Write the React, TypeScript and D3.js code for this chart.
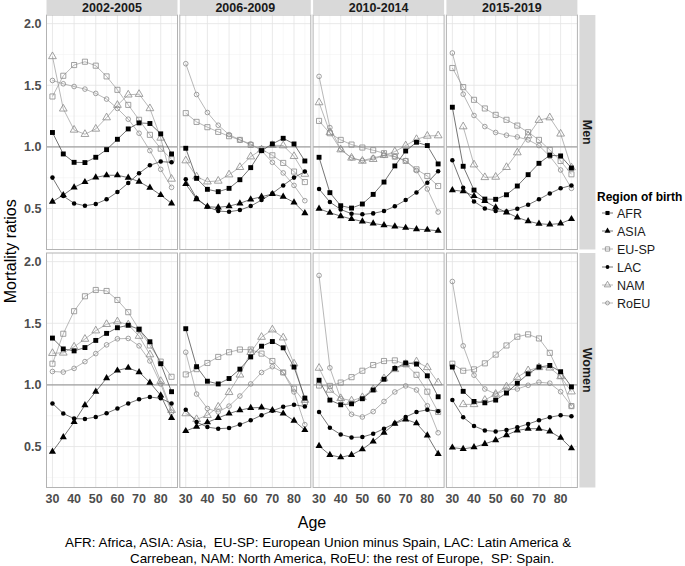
import { useEffect, useRef } from 'react';
import * as d3 from 'd3';

// ages and facets
const ages = [30, 35, 40, 45, 50, 55, 60, 65, 70, 75, 80, 85];
const periods = ['2002-2005', '2006-2009', '2010-2014', '2015-2019'];
const sexes = ['Men', 'Women'];
const regions = ['AFR', 'ASIA', 'EU-SP', 'LAC', 'NAM', 'RoEU'];
const xTicks = [30, 40, 50, 60, 70, 80];
const yTicks = [0.5, 1.0, 1.5, 2.0];
const yMinor = [0.25, 0.75, 1.25, 1.75];
const xMinor = [35, 45, 55, 65, 75, 85];

// each array: one row per period, one value per age
const menAFR = [
  [1.117, 0.943, 0.875, 0.873, 0.916, 0.978, 1.062, 1.146, 1.195, 1.19, 1.106, 0.943],
  [0.989, 0.745, 0.656, 0.637, 0.664, 0.734, 0.832, 0.97, 1.024, 1.07, 1.024, 0.886],
  [0.916, 0.629, 0.523, 0.504, 0.537, 0.615, 0.715, 0.846, 0.967, 1.038, 1.011, 0.862],
  [1.322, 0.843, 0.65, 0.577, 0.575, 0.612, 0.683, 0.775, 0.867, 0.932, 0.927, 0.829],
];
const menASIA = [
  [0.556, 0.61, 0.672, 0.715, 0.753, 0.77, 0.77, 0.751, 0.718, 0.669, 0.61, 0.542],
  [0.699, 0.577, 0.515, 0.51, 0.52, 0.542, 0.575, 0.596, 0.618, 0.596, 0.55, 0.463],
  [0.499, 0.466, 0.439, 0.415, 0.396, 0.379, 0.366, 0.355, 0.344, 0.333, 0.328, 0.32],
  [0.65, 0.64, 0.602, 0.561, 0.51, 0.469, 0.428, 0.398, 0.377, 0.371, 0.379, 0.415],
];
const menEUSP = [
  [1.409, 1.577, 1.664, 1.691, 1.659, 1.572, 1.463, 1.341, 1.22, 1.098, 0.986, 0.9],
  [1.274, 1.203, 1.16, 1.122, 1.087, 1.057, 1.016, 0.981, 0.932, 0.87, 0.8, 0.715],
  [1.211, 1.111, 1.057, 1.019, 0.995, 0.973, 0.949, 0.921, 0.886, 0.818, 0.764, 0.683],
  [1.64, 1.485, 1.382, 1.312, 1.26, 1.22, 1.173, 1.119, 1.057, 0.976, 0.886, 0.778],
];
const menLAC = [
  [0.751, 0.602, 0.542, 0.523, 0.537, 0.575, 0.634, 0.707, 0.786, 0.851, 0.881, 0.875],
  [0.737, 0.583, 0.515, 0.48, 0.474, 0.488, 0.52, 0.569, 0.623, 0.688, 0.751, 0.8],
  [0.659, 0.553, 0.493, 0.458, 0.453, 0.461, 0.48, 0.518, 0.569, 0.631, 0.71, 0.802],
  [0.892, 0.669, 0.558, 0.501, 0.48, 0.477, 0.499, 0.531, 0.575, 0.623, 0.664, 0.688],
];
const menNAM = [
  [1.734, 1.309, 1.138, 1.103, 1.146, 1.238, 1.339, 1.423, 1.428, 1.312, 1.073, 0.74],
  [0.889, 0.759, 0.718, 0.724, 0.775, 0.835, 0.921, 0.978, 1.014, 1.011, 0.924, 0.78],
  [1.36, 1.117, 0.978, 0.911, 0.886, 0.9, 0.932, 0.962, 1.011, 1.062, 1.089, 1.092],
  [null, 1.165, 0.856, 0.753, 0.756, 0.835, 0.954, 1.092, 1.217, 1.238, 1.106, 0.832],
];
const menRoEU = [
  [1.539, 1.512, 1.49, 1.469, 1.434, 1.388, 1.312, 1.225, 1.111, 0.97, 0.818, 0.672],
  [1.675, 1.425, 1.279, 1.176, 1.1, 1.057, 1.024, 0.97, 0.875, 0.789, 0.688, 0.564],
  [1.572, 1.157, 0.981, 0.911, 0.889, 0.911, 0.932, 0.921, 0.889, 0.808, 0.659, 0.472],
  [1.762, 1.428, 1.255, 1.165, 1.117, 1.095, 1.081, 1.057, 1.011, 0.924, 0.813, 0.664],
];

const womenAFR = [
  [1.38, 1.292, 1.276, 1.303, 1.361, 1.418, 1.464, 1.484, 1.451, 1.35, 1.172, 0.945],
  [1.456, 1.148, 1.03, 1.008, 1.052, 1.128, 1.227, 1.314, 1.352, 1.301, 1.145, 0.893],
  [1.038, 0.877, 0.839, 0.847, 0.888, 0.959, 1.046, 1.134, 1.178, 1.169, 1.074, 0.904],
  [1.145, 0.948, 0.866, 0.855, 0.877, 0.934, 1.014, 1.09, 1.145, 1.158, 1.107, 0.984],
];
const womenASIA = [
  [0.459, 0.577, 0.699, 0.836, 0.945, 1.055, 1.117, 1.139, 1.104, 1.019, 0.915, 0.732],
  [0.626, 0.661, 0.697, 0.732, 0.768, 0.795, 0.814, 0.817, 0.795, 0.768, 0.71, 0.634],
  [0.505, 0.432, 0.413, 0.432, 0.478, 0.541, 0.612, 0.686, 0.721, 0.689, 0.59, 0.44],
  [0.492, 0.481, 0.495, 0.522, 0.552, 0.593, 0.631, 0.645, 0.645, 0.623, 0.571, 0.486],
];
const womenEUSP = [
  [1.172, 1.415, 1.598, 1.719, 1.77, 1.762, 1.689, 1.59, 1.451, 1.32, 1.189, 1.066],
  [1.085, 1.128, 1.178, 1.227, 1.265, 1.287, 1.287, 1.254, 1.194, 1.101, 0.97, 0.858],
  [0.995, 0.992, 1.019, 1.063, 1.115, 1.161, 1.194, 1.199, 1.167, 1.082, 0.945, 0.781],
  [1.172, 1.115, 1.126, 1.175, 1.246, 1.32, 1.391, 1.41, 1.377, 1.26, 1.074, 0.828],
];
const womenLAC = [
  [0.85, 0.768, 0.727, 0.724, 0.74, 0.77, 0.809, 0.85, 0.883, 0.902, 0.891, 0.85],
  [0.798, 0.699, 0.658, 0.645, 0.65, 0.678, 0.713, 0.754, 0.79, 0.822, 0.839, 0.825],
  [0.781, 0.653, 0.598, 0.574, 0.577, 0.604, 0.645, 0.689, 0.74, 0.781, 0.798, 0.787],
  [0.877, 0.738, 0.667, 0.631, 0.623, 0.634, 0.656, 0.683, 0.713, 0.738, 0.754, 0.746],
];
const womenNAM = [
  [1.257, 1.26, 1.309, 1.372, 1.44, 1.492, 1.514, 1.489, 1.396, 1.246, 1.03, 0.795],
  [0.768, 0.721, 0.754, 0.822, 0.94, 1.082, 1.265, 1.388, 1.448, 1.383, 1.172, 0.877],
  [1.137, 0.959, 0.891, 0.872, 0.899, 0.964, 1.052, 1.126, 1.169, 1.189, 1.142, 1.019],
  [null, 0.842, 0.842, 0.877, 0.926, 0.986, 1.063, 1.117, 1.142, 1.139, 1.068, 0.945],
];
const womenRoEU = [
  [1.109, 1.104, 1.134, 1.189, 1.254, 1.325, 1.374, 1.377, 1.317, 1.194, 1.008, 0.779],
  [1.265, 0.926, 0.809, 0.781, 0.828, 0.91, 1.008, 1.101, 1.148, 1.101, 0.943, 0.678],
  [1.888, 1.139, 0.888, 0.762, 0.74, 0.784, 0.866, 0.943, 0.992, 0.959, 0.831, 0.612],
  [1.839, 1.317, 1.079, 0.967, 0.926, 0.959, 0.967, 0.997, 1.022, 1.014, 0.945, 0.828],
];

const captionLines = [
  'AFR: Africa, ASIA: Asia,  EU-SP: European Union minus Spain, LAC: Latin America &',
  'Carrebean, NAM: North America, RoEU: the rest of Europe,  SP: Spain.',
];

type Row = (number | null)[];
const table: Record<string, Record<string, Row[]>> = {
  Men: { AFR: menAFR, ASIA: menASIA, 'EU-SP': menEUSP, LAC: menLAC, NAM: menNAM, RoEU: menRoEU },
  Women: { AFR: womenAFR, ASIA: womenASIA, 'EU-SP': womenEUSP, LAC: womenLAC, NAM: womenNAM, RoEU: womenRoEU },
};

const FONT = '"Liberation Sans", Arial, sans-serif';

// marker look per region
const markStyle: Record<string, { shape: d3.SymbolType; filled: boolean; size: number }> = {
  AFR: { shape: d3.symbolSquare, filled: true, size: 24 },
  ASIA: { shape: d3.symbolTriangle, filled: true, size: 22 },
  'EU-SP': { shape: d3.symbolSquare, filled: false, size: 26 },
  LAC: { shape: d3.symbolCircle, filled: true, size: 16 },
  NAM: { shape: d3.symbolTriangle, filled: false, size: 26 },
  RoEU: { shape: d3.symbolCircle, filled: false, size: 17 },
};

export default function App() {
  const svgRef = useRef<SVGSVGElement>(null);

  useEffect(() => {
    if (!svgRef.current) return;
    const width = 685;
    const height = 566;
    const svg = d3.select(svgRef.current);
    svg.selectAll('*').remove();
    svg.attr('width', width).attr('height', height).style('font-family', FONT);

    svg.append('rect').attr('width', width).attr('height', height).attr('fill', '#fff');

    const left0 = 46.5;
    const step = 133.3;
    const panelW = 131;
    const panelH = 234.5;
    const rowTops = [15, 253];
    const stripH = 14.5;

    const yDomain: [number, number] = [0.168, 2.07];

    const line = (x: d3.ScaleLinear<number, number>, y: d3.ScaleLinear<number, number>) =>
      d3.line<[number, number | null]>()
        .defined(d => d[1] != null)
        .x(d => x(d[0]))
        .y(d => y(d[1] as number));

    sexes.forEach((sex, r) => {
      const top = rowTops[r];
      const y = d3.scaleLinear().domain(yDomain).range([top + panelH, top]);

      periods.forEach((period, c) => {
        const left = left0 + c * step;
        const x = d3.scaleLinear().domain([27.25, 87.75]).range([left, left + panelW]);
        const g = svg.append('g');

        g.append('rect')
          .attr('x', left).attr('y', top).attr('width', panelW).attr('height', panelH)
          .attr('fill', '#fff');

        // grid
        g.selectAll('line.ymin').data(yMinor).join('line')
          .attr('x1', left).attr('x2', left + panelW)
          .attr('y1', d => y(d)).attr('y2', d => y(d))
          .attr('stroke', '#f0f0f0').attr('stroke-width', 0.5);
        g.selectAll('line.xmin').data(xMinor).join('line')
          .attr('y1', top).attr('y2', top + panelH)
          .attr('x1', d => x(d)).attr('x2', d => x(d))
          .attr('stroke', '#f0f0f0').attr('stroke-width', 0.5);
        g.selectAll('line.ymaj').data(yTicks).join('line')
          .attr('x1', left).attr('x2', left + panelW)
          .attr('y1', d => y(d)).attr('y2', d => y(d))
          .attr('stroke', '#e3e3e3').attr('stroke-width', 0.8);
        g.selectAll('line.xmaj').data(xTicks).join('line')
          .attr('y1', top).attr('y2', top + panelH)
          .attr('x1', d => x(d)).attr('x2', d => x(d))
          .attr('stroke', '#e3e3e3').attr('stroke-width', 0.8);

        // reference line at 1
        g.append('line')
          .attr('x1', left).attr('x2', left + panelW)
          .attr('y1', y(1)).attr('y2', y(1))
          .attr('stroke', '#8c8c8c').attr('stroke-width', 1);

        // lines first (open series behind)
        const order = ['EU-SP', 'NAM', 'RoEU', 'AFR', 'ASIA', 'LAC'];
        order.forEach(reg => {
          const vals = table[sex][reg][c];
          const pts: [number, number | null][] = ages.map((a, i) => [a, vals[i]]);
          const st = markStyle[reg];
          const col = st.filled ? '#3a3a3a' : '#9a9a9a';
          g.append('path')
            .attr('d', line(x, y)(pts))
            .attr('fill', 'none')
            .attr('stroke', col)
            .attr('stroke-width', 0.7);
        });
        order.forEach(reg => {
          const vals = table[sex][reg][c];
          const st = markStyle[reg];
          const sym = d3.symbol().type(st.shape).size(st.size);
          g.selectAll(null)
            .data(ages.map((a, i) => [a, vals[i]] as [number, number | null]).filter(d => d[1] != null))
            .join('path')
            .attr('d', sym)
            .attr('transform', d => `translate(${x(d[0])},${y(d[1] as number)})`)
            .attr('fill', st.filled ? '#000' : 'none')
            .attr('stroke', st.filled ? 'none' : '#8a8a8a')
            .attr('stroke-width', 0.8);
        });

        // panel border
        g.append('rect')
          .attr('x', left).attr('y', top).attr('width', panelW).attr('height', panelH)
          .attr('fill', 'none').attr('stroke', '#b3b3b3').attr('stroke-width', 1);

        // column strip
        if (r === 0) {
          svg.append('rect')
            .attr('x', left).attr('y', 0).attr('width', panelW).attr('height', stripH)
            .attr('fill', '#d9d9d9');
          svg.append('text')
            .attr('x', left + panelW / 2).attr('y', stripH / 2)
            .attr('dy', '0.36em').attr('text-anchor', 'middle')
            .attr('font-size', 12.5).attr('font-weight', 'bold').attr('fill', '#1a1a1a')
            .text(period);
        }

        // x tick labels
        if (r === 1) {
          svg.selectAll(null).data(xTicks).join('text')
            .attr('x', d => x(d)).attr('y', top + panelH + 15)
            .attr('text-anchor', 'middle')
            .attr('font-size', 12.5).attr('font-weight', 'bold').attr('fill', '#4d4d4d')
            .text(d => d);
        }
        // y tick labels
        if (c === 0) {
          svg.selectAll(null).data(yTicks).join('text')
            .attr('x', left - 5).attr('y', d => y(d)).attr('dy', '0.36em')
            .attr('text-anchor', 'end')
            .attr('font-size', 12.5).attr('font-weight', 'bold').attr('fill', '#4d4d4d')
            .text(d => d3.format('.1f')(d));
        }
      });

      // row strip
      const sx = left0 + 3 * step + panelW + 2;
      svg.append('rect')
        .attr('x', sx).attr('y', top).attr('width', 16).attr('height', panelH)
        .attr('fill', '#d9d9d9');
      svg.append('text')
        .attr('transform', `translate(${sx + 8},${top + panelH / 2}) rotate(90)`)
        .attr('dy', '0.36em').attr('text-anchor', 'middle')
        .attr('font-size', 12.5).attr('font-weight', 'bold').attr('fill', '#1a1a1a')
        .text(sex);
    });

    // axis titles
    svg.append('text')
      .attr('x', left0 + (3 * step + panelW) / 2).attr('y', 528)
      .attr('text-anchor', 'middle').attr('font-size', 16).attr('fill', '#000')
      .text('Age');
    svg.append('text')
      .attr('transform', `translate(16,${(rowTops[0] + rowTops[1] + panelH) / 2}) rotate(-90)`)
      .attr('text-anchor', 'middle').attr('font-size', 16).attr('fill', '#000')
      .text('Mortality ratios');

    // caption (keep the double spaces)
    svg.append('text')
      .attr('x', 65).attr('y', 547)
      .attr('font-size', 13.4).attr('fill', '#000')
      .style('white-space', 'pre')
      .text(captionLines[0]);
    svg.append('text')
      .attr('x', 130).attr('y', 563)
      .attr('font-size', 13.4).attr('fill', '#000')
      .style('white-space', 'pre')
      .text(captionLines[1]);

    // legend
    const lg = svg.append('g').attr('transform', 'translate(597,0)');
    lg.append('text')
      .attr('x', 0).attr('y', 201)
      .attr('font-size', 12).attr('font-weight', 'bold').attr('fill', '#000')
      .text('Region of birth');
    regions.forEach((reg, i) => {
      const cy = 213 + i * 18;
      const st = markStyle[reg];
      lg.append('line')
        .attr('x1', 5).attr('x2', 16).attr('y1', cy).attr('y2', cy)
        .attr('stroke', st.filled ? '#3a3a3a' : '#9a9a9a').attr('stroke-width', 0.7);
      lg.append('path')
        .attr('d', d3.symbol().type(st.shape).size(st.size * 0.7)())
        .attr('transform', `translate(10.5,${cy})`)
        .attr('fill', st.filled ? '#000' : 'none')
        .attr('stroke', st.filled ? 'none' : '#8a8a8a')
        .attr('stroke-width', 0.8);
      lg.append('text')
        .attr('x', 20).attr('y', cy).attr('dy', '0.36em')
        .attr('font-size', 12.5).attr('fill', '#1a1a1a')
        .text(reg);
    });
  }, []);

  return (
    <svg ref={svgRef} style={{ position: 'absolute', left: 0, top: 0, display: 'block' }} />
  );
}
